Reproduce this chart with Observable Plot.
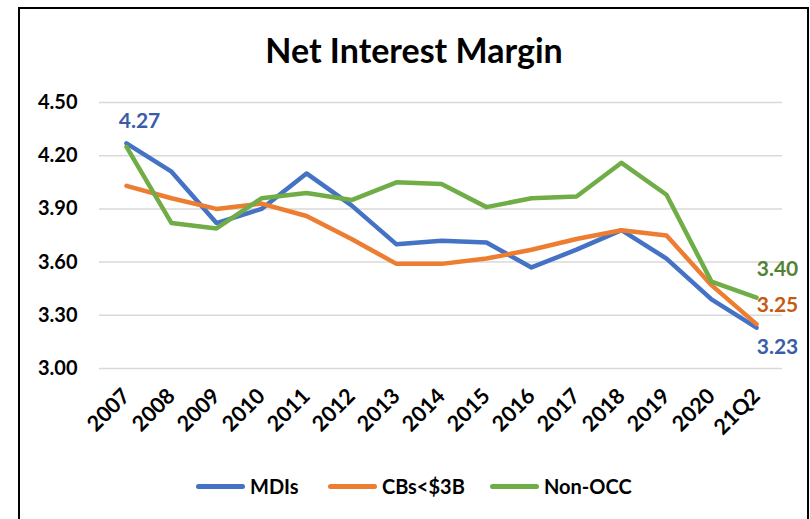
<!DOCTYPE html>
<html>
<head>
<meta charset="utf-8">
<script src="https://cdn.jsdelivr.net/npm/d3@7"></script>
<script src="https://cdn.jsdelivr.net/npm/@observablehq/plot@0.6"></script>
<style>
  html, body { margin: 0; padding: 0; background: #fff; }
  #wrap { position: relative; width: 810px; height: 519px; overflow: hidden; font-family: Lato, "Open Sans", sans-serif; }
  #frame { position: absolute; left: 18px; top: 7px; width: 791px; height: 600px; border: 2px solid #000; box-sizing: border-box; }
  #title { position: absolute; left: 0; width: 828px; top: 29px; text-align: center; font-size: 34px; font-weight: 700; color: #000; }
  #chart { position: absolute; left: 0; top: 0; }
  .leg { position: absolute; top: 474px; font-size: 20px; font-weight: 700; color: #000; display: flex; align-items: center; }
  .leg span.sw { display: inline-block; width: 49px; height: 5px; border-radius: 3px; margin-right: 5px; }
</style>
</head>
<body>
<div id="wrap">
  <div id="frame"></div>
  <div id="title">Net Interest Margin</div>
  <div id="chart"></div>
  <div id="legend"></div>
</div>
<script>
const categories = ["2007","2008","2009","2010","2011","2012","2013","2014","2015","2016","2017","2018","2019","2020","21Q2"];
const mdis   = [4.27, 4.11, 3.82, 3.90, 4.10, 3.92, 3.70, 3.72, 3.71, 3.57, 3.67, 3.78, 3.62, 3.39, 3.23];
const cbs    = [4.03, 3.96, 3.90, 3.93, 3.86, 3.73, 3.59, 3.59, 3.62, 3.67, 3.73, 3.78, 3.75, 3.47, 3.25];
const nonOcc = [4.25, 3.82, 3.79, 3.96, 3.99, 3.95, 4.05, 4.04, 3.91, 3.96, 3.97, 4.16, 3.98, 3.49, 3.40];
const seriesNames = ["MDIs", "CBs<$3B", "Non-OCC"];
const lineColors = ["#4472C4", "#ED7D31", "#70AD47"];
const labelColors = ["#3A5DA8", "#C55A11", "#548235"];
const yTicks = [3.00, 3.30, 3.60, 3.90, 4.20, 4.50];

const seriesValues = [mdis, cbs, nonOcc];
const data = seriesValues.flatMap((vals, s) => vals.map((v, i) => ({series: seriesNames[s], cat: categories[i], value: v})));

const labels = [
  {series: "MDIs", cat: "2007", value: mdis[0], dx: 13, dy: -22, color: labelColors[0]},
  {series: "Non-OCC", cat: "21Q2", value: nonOcc[14], dx: 21, dy: -28, color: labelColors[2]},
  {series: "CBs<$3B", cat: "21Q2", value: cbs[14], dx: 21, dy: -19, color: labelColors[1]},
  {series: "MDIs", cat: "21Q2", value: mdis[14], dx: 21, dy: 20, color: labelColors[0]}
];

const chart = Plot.plot({
  width: 810,
  height: 519,
  marginLeft: 99,
  marginRight: 28,
  marginTop: 102,
  marginBottom: 151,
  style: {fontFamily: "Lato, 'Open Sans', sans-serif", background: "transparent", overflow: "visible"},
  x: {type: "point", domain: categories, padding: 0.5},
  y: {domain: [3.0, 4.5]},
  color: {domain: seriesNames, range: lineColors},
  marks: [
    Plot.ruleY(yTicks, {stroke: "#D9D9D9", strokeWidth: 1.5}),
    Plot.axisY({ticks: yTicks, tickSize: 0, tickPadding: 22, tickFormat: d3.format(".2f"), fontSize: 20, fontWeight: 700, fill: "#000", label: null}),
    Plot.axisX({tickSize: 0, tickPadding: 24, tickRotate: -45, fontSize: 21.5, fontWeight: 700, fill: "#000", label: null}),
    Plot.line(data, {x: "cat", y: "value", z: "series", stroke: "series", strokeWidth: 4.5, strokeLinejoin: "round", strokeLinecap: "round"}),
    ...labels.map(l => Plot.text([l], {x: "cat", y: "value", text: d => d3.format(".2f")(d.value), dx: l.dx, dy: l.dy, fill: l.color, fontSize: 21, fontWeight: 700}))
  ]
});
document.getElementById("chart").appendChild(chart);

const legendPos = [196, 328, 490];
const legend = document.getElementById("legend");
seriesNames.forEach((name, i) => {
  const item = document.createElement("div");
  item.className = "leg";
  item.style.left = legendPos[i] + "px";
  const sw = document.createElement("span");
  sw.className = "sw";
  sw.style.background = lineColors[i];
  item.appendChild(sw);
  item.appendChild(document.createTextNode(name));
  legend.appendChild(item);
});
</script>
</body>
</html>
